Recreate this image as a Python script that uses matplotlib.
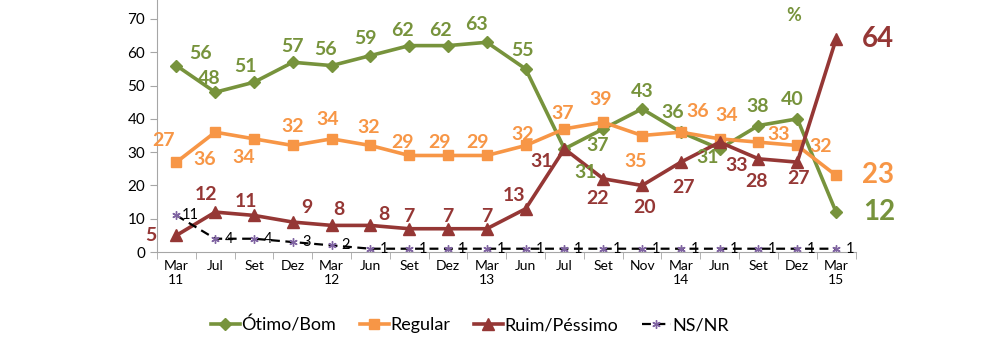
import numpy as np
import matplotlib
matplotlib.use('Agg')
import matplotlib.pyplot as plt

plt.rcParams['font.family'] = ['Lato', 'DejaVu Sans']

# Survey dates (Mar 2011 - Mar 2015)
labels = ['Mar\n11', 'Jul', 'Set', 'Dez', 'Mar\n12', 'Jun', 'Set', 'Dez', 'Mar\n13',
          'Jun', 'Jul', 'Set', 'Nov', 'Mar\n14', 'Jun', 'Set', 'Dez', 'Mar\n15']

otimo_bom = [56, 48, 51, 57, 56, 59, 62, 62, 63, 55, 31, 37, 43, 36, 31, 38, 40, 12]
regular = [27, 36, 34, 32, 34, 32, 29, 29, 29, 32, 37, 39, 35, 36, 34, 33, 32, 23]
ruim_pessimo = [5, 12, 11, 9, 8, 8, 7, 7, 7, 13, 31, 22, 20, 27, 33, 28, 27, 64]
ns_nr = [11, 4, 4, 3, 2, 1, 1, 1, 1, 1, 1, 1, 1, 1, 1, 1, 1, 1]

green = '#77933C'
orange = '#F79646'
red = '#953735'

# label offsets in pixels (dx, dy with dy positive = down)
off_green = [(24, -12), (-6, -14), (-9, -16), (0, -16), (-6, -16), (-5, -17), (-7, -15),
             (-8, -15), (-10, -18), (-3, -18), (21, 24), (-6, 17), (0, -17), (-8, -20),
             (-12, 9), (-1, -19), (-5, -19), (27, 0)]
off_orange = [(-13, -22), (-11, 27), (-10, 19), (0, -19), (-4, -19), (-2, -18), (-7, -13),
              (-9, -13), (-9, -13), (-3, -11), (-2, -15), (-3, -23), (-6, 26), (17, -21),
              (7, -23), (20, -8), (23, 1), (26, 0)]
off_red = [(-26, 0), (-9, -18), (-8, -14), (14, -15), (7, -16), (13, -11), (0, -12),
           (0, -12), (0, -12), (-12, -13), (-23, 13), (-6, 20), (2, 22), (3, 25),
           (17, 23), (-2, 23), (1, 16), (26, 0)]

x = np.arange(len(labels))

fig = plt.figure(figsize=(10, 3.57), dpi=100)
ax = fig.add_axes([0.157, 0.294, 0.6985, 0.706])

ax.plot(x, otimo_bom, color=green, lw=2.6, marker='D', ms=6.5, label='Ótimo/Bom')
ax.plot(x, regular, color=orange, lw=2.6, marker='s', ms=7.5, label='Regular')
ax.plot(x, ruim_pessimo, color=red, lw=2.6, marker='^', ms=8, label='Ruim/Péssimo')
ax.plot(x, ns_nr, color='black', lw=1.6, ls=(0, (4, 2.5)), marker=(6, 2, 0), ms=6,
        markeredgecolor='#8064A2', label='NS/NR')

def put_labels(vals, offs, color):
    for i, (v, (dx, dy)) in enumerate(zip(vals, offs)):
        big = i == len(vals) - 1
        ax.annotate(str(v), (x[i], v), xytext=(dx * 0.72, -dy * 0.72),
                    textcoords='offset points', color=color, fontweight='bold',
                    fontsize=20 if big else 14,
                    ha='left' if big else 'center', va='center')

put_labels(otimo_bom, off_green, green)
put_labels(regular, off_orange, orange)
put_labels(ruim_pessimo, off_red, red)

for i, v in enumerate(ns_nr):
    ax.annotate(str(v), (x[i], v), xytext=(10, 0), textcoords='offset points',
                color='black', fontsize=10.5, ha='center', va='center')

ax.text(15.9, 71, '%', color=green, fontweight='bold', fontsize=13, ha='center', va='center')

ax.set_xlim(-0.5, len(labels) - 0.5)
ax.set_ylim(0, 75.7)
ax.set_yticks(np.arange(0, 71, 10))
ax.set_xticks(x)
ax.set_xticklabels(labels, fontsize=10)
ax.set_xticks(np.arange(-0.5, len(labels), 1), minor=True)
ax.tick_params(axis='x', which='major', length=0, pad=6)
ax.tick_params(axis='x', which='minor', length=5, color='#A6A6A6')
ax.tick_params(axis='y', length=5, color='#A6A6A6', labelsize=11)
for s in ['top', 'right']:
    ax.spines[s].set_visible(False)
for s in ['left', 'bottom']:
    ax.spines[s].set_color('#A6A6A6')

fig.legend(loc='center', bbox_to_anchor=(0.47, 0.09), ncol=4, frameon=False,
           fontsize=13, handlelength=1.6, handletextpad=0.1, columnspacing=1.3)

fig.savefig('out.png', dpi=100)
